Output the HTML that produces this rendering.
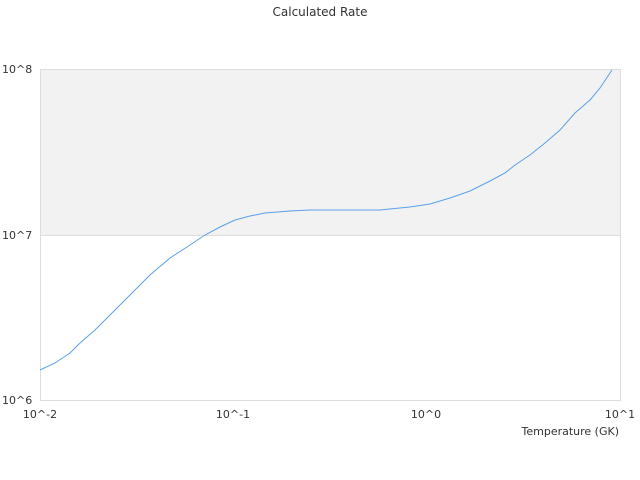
<!DOCTYPE html>
<html><head><style>body{margin:0;background:#fff}svg{display:block}</style></head><body>
<svg width="640" height="480" xmlns="http://www.w3.org/2000/svg" font-family="DejaVu Sans, sans-serif" font-size="11" fill="#333">
<rect x="40.5" y="69.5" width="580" height="166" fill="#f2f2f2"/>
<rect x="40.5" y="69.5" width="580" height="331" fill="none" stroke="#ddd"/>
<line x1="40" y1="235.5" x2="620" y2="235.5" stroke="#ddd"/>
<text x="320" y="16" text-anchor="middle" font-size="12">Calculated Rate</text>
<text x="2" y="73">10^8</text>
<text x="2" y="239">10^7</text>
<text x="2" y="404">10^6</text>
<text x="40" y="418" text-anchor="middle">10^-2</text>
<text x="233" y="418" text-anchor="middle">10^-1</text>
<text x="426" y="418" text-anchor="middle">10^0</text>
<text x="620" y="418" text-anchor="middle">10^1</text>
<text x="619" y="435" text-anchor="end">Temperature (GK)</text>
<polyline fill="none" stroke="#5aa0e8" stroke-width="1" points="40,370 55,363 70,353 80,343 95,330 110,315 130,295 150,275 170,258 190,245 205,235 220,227 235,220 250,216 265,213 290,211 310,210 380,210 410,207 430,204 450,198 470,191 490,181 505,173 515,165 530,155 545,143 560,130 575,113 590,100 600,88 612,70"/>
</svg>
</body></html>
